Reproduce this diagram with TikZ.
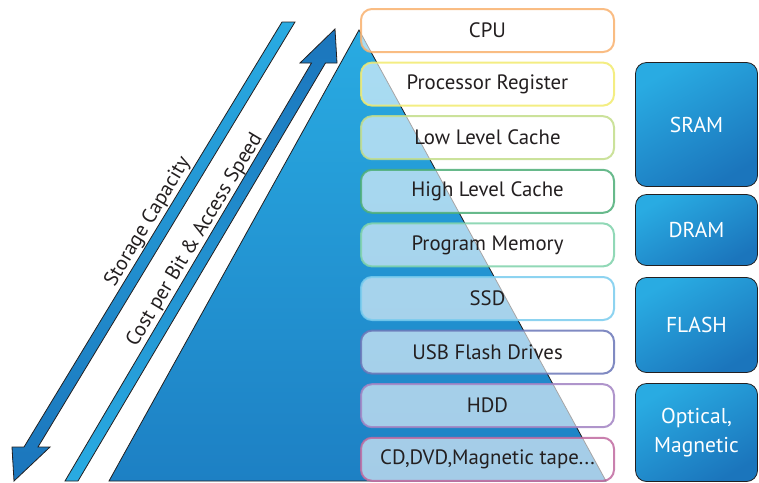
\documentclass[tikz,border=0pt]{standalone}
\usepackage{fontspec}
\setmainfont{PT Sans}
\definecolor{ink}{HTML}{231F20}
\definecolor{blueLight}{HTML}{29ABE2}
\definecolor{blueDark}{HTML}{1B75BC}
\definecolor{triBottom}{HTML}{1D80C4}
\definecolor{cCPU}{HTML}{F9B16E}
\definecolor{cReg}{HTML}{F2EB6E}
\definecolor{cLow}{HTML}{C3DD8A}
\definecolor{cHigh}{HTML}{4EAE78}
\definecolor{cProg}{HTML}{7ED2AA}
\definecolor{cSSD}{HTML}{7ACCEE}
\definecolor{cUSB}{HTML}{6A76B8}
\definecolor{cHDD}{HTML}{A283C3}
\definecolor{cCD}{HTML}{C06AA0}
\begin{document}
\begin{tikzpicture}[x=1pt,y=-1pt,
  layer/.style={draw=#1, draw opacity=0.85, line width=2pt,
    fill=white, fill opacity=0.6, text opacity=1, text=ink,
    rounded corners=11pt, minimum width=253pt, minimum height=43pt,
    inner sep=0pt, font=\fontsize{20.8}{24}\selectfont},
  tech/.style={draw=ink, line width=0.8pt, rounded corners=11pt,
    top color=blueLight, bottom color=blueDark, shading angle=30,
    minimum width=122pt, inner sep=0pt, text=white, align=center,
    font=\fontsize{21.5}{28.5}\selectfont},
  bigarrow/.style={draw=ink, line width=0.8pt, line join=miter},
  slanted/.style={rotate=59, text=ink, inner sep=0pt,
    font=\fontsize{20.5}{24}\selectfont}]
\useasboundingbox (0,0) rectangle (759,482);

% the pyramid
\path[draw=ink, line width=0.8pt, top color=blueLight, bottom color=triBottom]
  (359,30) -- (606,481) -- (109,481) -- cycle;

% storage capacity grows downwards
\path[bigarrow, top color=blueLight, bottom color=blueDark]
  (282,22) -- (295,22) -- (38,447) -- (50,447) -- (14,481)
  -- (12,447) -- (24,447) -- cycle;
% cost per bit and access speed grow upwards
\path[bigarrow, top color=blueDark, bottom color=blueLight]
  (65,481) -- (78,481) -- (325.5,63) -- (337,63) -- (335,29)
  -- (300,63) -- (311.5,63) -- cycle;

\node[slanted] (capacity) at (148,222) {Storage Capacity};
\node[slanted] (cost) at (195,240) {Cost per Bit \& Access Speed};

% memory hierarchy levels
\node[layer=cCPU]  (cpu)  at (487.5,30.5)  {CPU};
\node[layer=cReg]  (reg)  at (487.5,84.1)  {Processor Register};
\node[layer=cLow]  (low)  at (487.5,137.7) {Low Level Cache};
\node[layer=cHigh] (high) at (487.5,191.3) {High Level Cache};
\node[layer=cProg] (prog) at (487.5,244.9) {Program Memory};
\node[layer=cSSD]  (ssd)  at (487.5,298.5) {SSD};
\node[layer=cUSB]  (usb)  at (487.5,352.1) {USB Flash Drives};
\node[layer=cHDD]  (hdd)  at (487.5,405.7) {HDD};
\node[layer=cCD]   (cd)   at (487.5,459.3) {CD,DVD,Magnetic tape...};

% technologies
\node[tech, minimum height=124pt] (sram)  at (696.5,124.5) {SRAM};
\node[tech, minimum height=71pt]  (dram)  at (696.5,230)   {DRAM};
\node[tech, minimum height=95pt]  (flash) at (696.5,325)   {FLASH};
\node[tech, minimum height=98pt]  (optic) at (696.5,432.5) {Optical,\\Magnetic};
\end{tikzpicture}
\end{document}
